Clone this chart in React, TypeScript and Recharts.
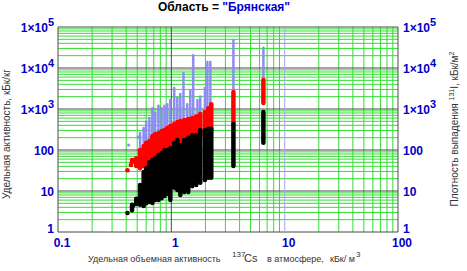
import { ReferenceLine, Scatter, ScatterChart, XAxis, YAxis } from "recharts";

// [x, low, high] – vertical runs of overlapping points
type Streak = [number, number, number];

const xTicks = [0.1, 1, 10, 100];
const yTicks = [1, 10, 100, 1000, 10000, 100000];
const xDecades = [0.1, 1, 10];
const yDecades = [1, 10, 100, 1000, 10000];

const blackStreaks: Streak[] = [
  [0.45, 3.4, 4.6],
  [0.49, 4.8, 6.5],
  [0.53, 4.6, 14],
  [0.57, 4.3, 29],
  [0.6, 5, 36],
  [0.64, 5.4, 50],
  [0.68, 5.1, 57],
  [0.72, 6, 63],
  [0.77, 6, 75],
  [0.82, 6.7, 85],
  [0.87, 7.5, 100],
  [0.92, 8.5, 100],
  [0.98, 6, 110],
  [1.06, 12, 150],
  [1.13, 10.6, 175],
  [1.2, 8, 132],
  [1.3, 9.5, 175],
  [1.41, 9.5, 200],
  [1.53, 13, 230],
  [1.66, 14, 230],
  [1.8, 16, 306],
  [1.98, 18.5, 306],
  [2.12, 21, 330],
  [2.25, 21, 330],
  [3.53, 41, 430],
  [6.49, 150, 840]
];

const redStreaks: Streak[] = [
  [0.45, 50, 57],
  [0.49, 41, 63],
  [0.53, 36, 100],
  [0.57, 41, 125],
  [0.6, 43, 150],
  [0.64, 45, 165],
  [0.68, 51, 220],
  [0.72, 57, 245],
  [0.77, 63, 260],
  [0.82, 71, 290],
  [0.87, 80, 306],
  [0.92, 90, 345],
  [0.98, 90, 385],
  [1.06, 100, 430],
  [1.13, 110, 480],
  [1.2, 125, 510],
  [1.3, 150, 540],
  [1.41, 165, 570],
  [1.53, 175, 600],
  [1.66, 195, 670],
  [1.8, 220, 750],
  [1.98, 245, 840],
  [2.12, 275, 1050],
  [2.25, 275, 1300],
  [3.53, 430, 2600],
  [6.49, 1400, 5100]
];

const blueStreaks: Streak[] = [
  [0.53, 100, 260],
  [0.57, 125, 345],
  [0.6, 150, 490],
  [0.64, 165, 600],
  [0.68, 220, 1050],
  [0.72, 245, 850],
  [0.77, 260, 1200],
  [0.82, 290, 1050],
  [0.87, 306, 1200],
  [0.92, 345, 1300],
  [0.98, 385, 1650],
  [1.06, 430, 3250],
  [1.13, 480, 1850],
  [1.2, 510, 2300],
  [1.28, 540, 8000],
  [1.38, 570, 1300],
  [1.47, 600, 2900],
  [1.56, 600, 20700],
  [1.7, 670, 1650],
  [1.8, 750, 2000],
  [1.98, 840, 3250],
  [2.08, 940, 14000],
  [2.21, 1300, 14000],
  [3.53, 2600, 48000],
  [6.49, 5100, 31000]
];

const blackDots = [
  { x: 0.41, y: 2.9 },
  { x: 0.46, y: 4.4 }
];
const redDots = [
  { x: 0.41, y: 32 },
  { x: 0.44, y: 43 },
  { x: 0.46, y: 57 }
];
const blueDots = [
  { x: 0.42, y: 132 },
  { x: 0.51, y: 205 },
  { x: 0.57, y: 306 }
];

const FONT = "'Liberation Sans', Arial, sans-serif";
const TICK_BLUE = "#0000c8";
const GREEN = "#33dd33";
const MAJOR = "#4a4a4a";
const BLACK = "#000000";
const RED = "#ff0000";
const LAVENDER = "#8c8cf2";

const minors = (decades: number[]) =>
  decades.flatMap((d) => [2, 3, 4, 5, 6, 7, 8, 9].map((m) => +(m * d).toPrecision(3)));

function powLabel(v: number, size: number) {
  const e = Math.round(Math.log10(v));
  if (e < 3) return String(v);
  return (
    <>
      <tspan>1×10</tspan>
      <tspan dy={-6} fontSize={size - 1}>
        {e}
      </tspan>
    </>
  );
}

function YTick(props: any) {
  const { x, y, payload, side } = props;
  const v = payload.value as number;
  const yy = v === 1 ? y + 1 : y + 5;
  return (
    <text
      x={side === "l" ? x - 4 : x + 5}
      y={yy}
      textAnchor={side === "l" ? "end" : "start"}
      fill={TICK_BLUE}
      fontSize={12}
      fontWeight="bold"
      fontFamily={FONT}
    >
      {powLabel(v, 12)}
    </text>
  );
}

function XTick(props: any) {
  const { x, y, payload } = props;
  return (
    <text
      x={x + 4}
      y={y + 15}
      textAnchor="middle"
      fill={TICK_BLUE}
      fontSize={12}
      fontWeight="bold"
      fontFamily={FONT}
    >
      {String(payload.value)}
    </text>
  );
}

const dot = (fill: string, r: number) => (p: any) => <circle cx={p.cx} cy={p.cy} r={r} fill={fill} />;

function streakLines(list: Streak[], color: string, w: number, key: string, dash?: string) {
  return list.map(([x, lo, hi], i) => (
    <ReferenceLine
      key={`${key}-${i}`}
      yAxisId="l"
      segment={[
        { x, y: lo },
        { x, y: hi }
      ]}
      stroke={color}
      strokeWidth={w}
      strokeLinecap="round"
      strokeDasharray={dash}
      ifOverflow="visible"
    />
  ));
}

export default function App() {
  return (
    <div style={{ position: "absolute", left: 0, top: 0, width: 467, height: 271, background: "#fff" }}>
      <ScatterChart width={467} height={271} margin={{ top: 27, right: 0, bottom: 0, left: 0 }}>
        <XAxis
          dataKey="x"
          type="number"
          scale="log"
          domain={[0.1, 100]}
          ticks={xTicks}
          interval={0}
          allowDataOverflow
          height={39}
          axisLine={false}
          tickLine={false}
          tickSize={0}
          tickMargin={0}
          tick={(p: any) => <XTick {...p} />}
        />
        <YAxis
          yAxisId="l"
          dataKey="y"
          type="number"
          scale="log"
          domain={[1, 100000]}
          ticks={yTicks}
          interval={0}
          allowDataOverflow
          width={58}
          axisLine={false}
          tickLine={false}
          tickSize={0}
          tickMargin={0}
          tick={(p: any) => <YTick {...p} side="l" />}
        />
        <YAxis
          yAxisId="r"
          orientation="right"
          type="number"
          scale="log"
          domain={[1, 100000]}
          ticks={yTicks}
          interval={0}
          allowDataOverflow
          width={69}
          axisLine={false}
          tickLine={false}
          tickSize={0}
          tickMargin={0}
          tick={(p: any) => <YTick {...p} side="r" />}
        />

        {minors(xDecades).map((v) => (
          <ReferenceLine key={`vx${v}`} yAxisId="l" x={v} stroke={GREEN} strokeWidth={1} ifOverflow="visible" />
        ))}
        {minors(yDecades).map((v) => (
          <ReferenceLine key={`hy${v}`} yAxisId="l" y={v} stroke={GREEN} strokeWidth={1} ifOverflow="visible" />
        ))}
        {yTicks.map((v) => (
          <ReferenceLine key={`My${v}`} yAxisId="l" y={v} stroke={MAJOR} strokeWidth={1} ifOverflow="visible" />
        ))}
        {xTicks.map((v) => (
          <ReferenceLine
            key={`Mx${v}`}
            yAxisId="l"
            x={v}
            stroke={v === 10 ? "#a8a8f0" : MAJOR}
            strokeWidth={1}
            ifOverflow="visible"
          />
        ))}

        {streakLines(blueStreaks, LAVENDER, 2.6, "b", "2 1.2")}
        {streakLines(redStreaks, RED, 4.5, "r")}
        {streakLines(blackStreaks, BLACK, 4.5, "k")}

        <Scatter yAxisId="l" data={blueDots} shape={dot(LAVENDER, 1.6)} isAnimationActive={false} />
        <Scatter yAxisId="l" data={redDots} shape={dot(RED, 2.3)} isAnimationActive={false} />
        <Scatter yAxisId="l" data={blackDots} shape={dot(BLACK, 2.3)} isAnimationActive={false} />
      </ScatterChart>

      <svg
        width={467}
        height={271}
        style={{ position: "absolute", left: 0, top: 0, pointerEvents: "none" }}
        fontFamily={FONT}
      >
        <text x={224} y={11} textAnchor="middle" fontSize={12} fontWeight="bold">
          <tspan fill="#000">Область = </tspan>
          <tspan fill="#0000d0">"Брянская"</tspan>
        </text>
        <text transform="translate(10,134) rotate(-90)" textAnchor="middle" fontSize={10} fill="#333">
          Удельная активность, кБк/кг
        </text>
        <text transform="translate(458,129) rotate(-90)" textAnchor="middle" fontSize={10} fill="#333">
          Плотность выпадения{" "}
          <tspan fontSize={7} dy={-4}>
            131
          </tspan>
          <tspan dy={4}>I, кБк/м</tspan>
          <tspan fontSize={7} dy={-4}>
            2
          </tspan>
        </text>
        <text y={262} fontSize={9} fill="#333">
          <tspan x={88}>Удельная объемная активность</tspan>
          <tspan x={232} dy={-5} fontSize={8}>
            137
          </tspan>
          <tspan x={244} dy={5} fontSize={11}>
            Cs
          </tspan>
          <tspan x={267}>в атмосфере,</tspan>
          <tspan x={330}>кБк/ м</tspan>
          <tspan x={356} dy={-5} fontSize={8}>
            3
          </tspan>
        </text>
      </svg>
    </div>
  );
}
